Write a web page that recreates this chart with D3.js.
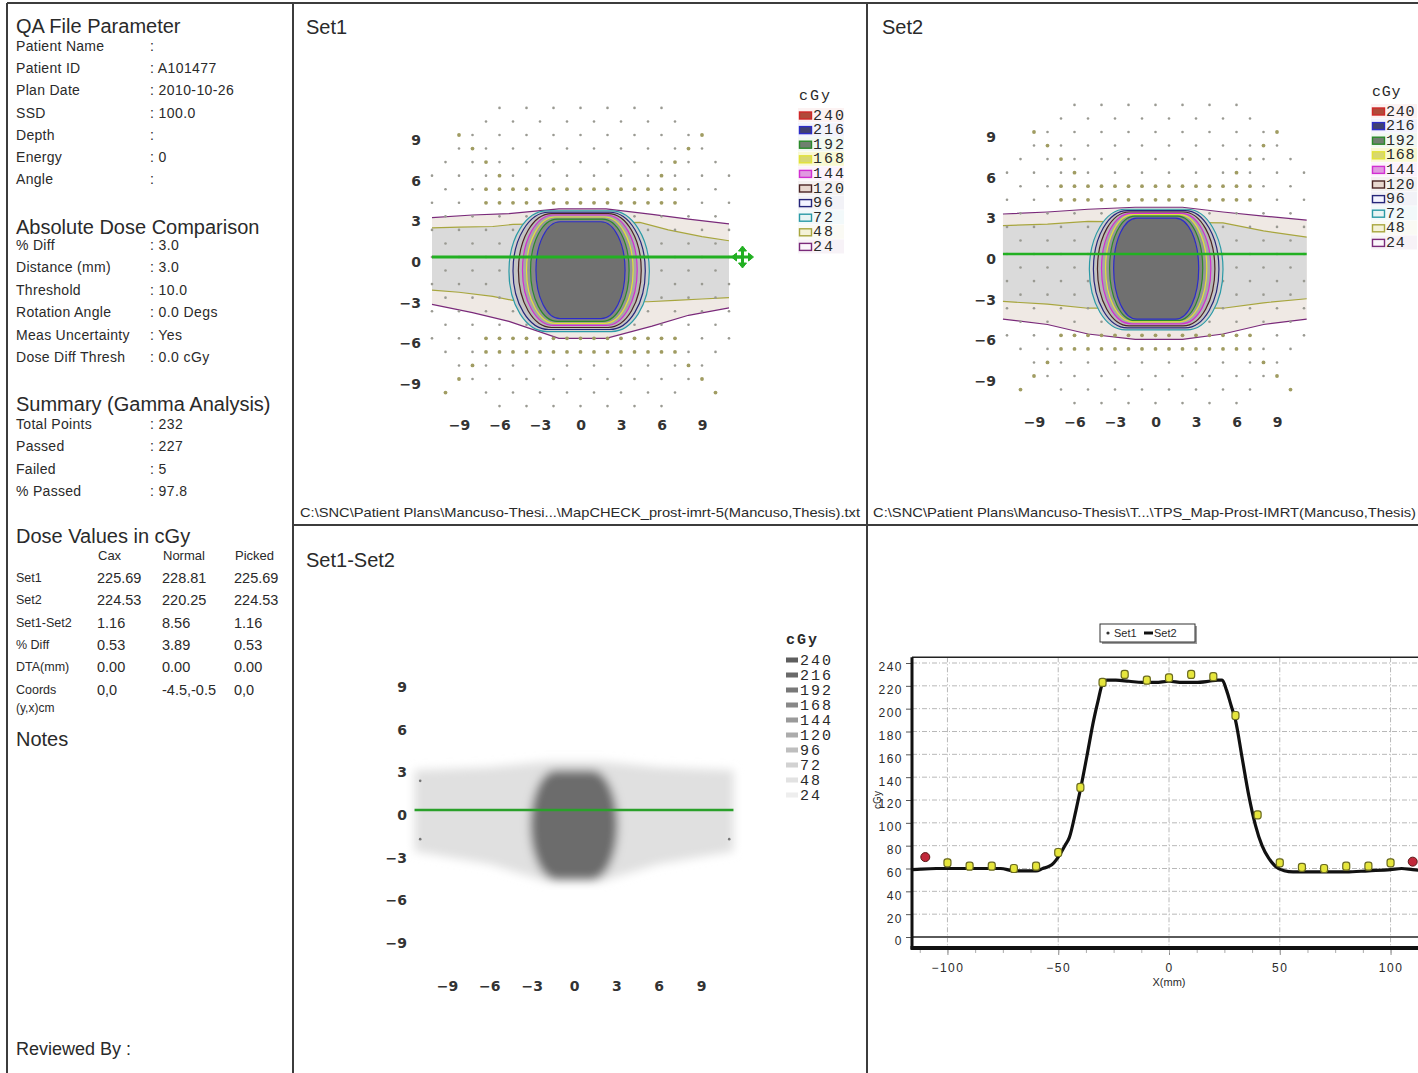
<!DOCTYPE html>
<meta charset="utf-8">
<script src="https://d3js.org/d3.v7.min.js"></script>
<style>
body { margin: 0; background: #fff; }
svg text { font-family: "Liberation Sans", Arial, sans-serif; fill: #2a2a2a; dominant-baseline: central; }
.maptick text { font-family: "DejaVu Sans", sans-serif; font-weight: bold; font-size: 14px; fill: #333; }
.legend text { font-family: "Liberation Mono", "Courier New", monospace; font-size: 15px; letter-spacing: 2px; }
.legend.tight text { letter-spacing: 0.8px; }
.pgrid line { stroke: #b8b8b8; stroke-dasharray: 5,2,1,2; }
</style>
<body>
<script>
// ---------------- data ----------------
var qaLabels = ["Patient Name", "Patient ID", "Plan Date", "SSD", "Depth", "Energy", "Angle"];
var qaValues = ["", "A101477", "2010-10-26", "100.0", "", "0", ""];
var absLabels = ["% Diff", "Distance (mm)", "Threshold", "Rotation Angle", "Meas Uncertainty", "Dose Diff Thresh"];
var absValues = ["3.0", "3.0", "10.0", "0.0 Degs", "Yes", "0.0 cGy"];
var sumLabels = ["Total Points", "Passed", "Failed", "% Passed"];
var sumValues = ["232", "227", "5", "97.8"];
var doseCols = ["Cax", "Normal", "Picked"];
var doseRows = ["Set1", "Set2", "Set1-Set2", "% Diff", "DTA(mm)", "Coords"];
var doseTable = [
  ["225.69", "228.81", "225.69"],
  ["224.53", "220.25", "224.53"],
  ["1.16", "8.56", "1.16"],
  ["0.53", "3.89", "0.53"],
  ["0.00", "0.00", "0.00"],
  ["0,0", "-4.5,-0.5", "0,0"]
];
var path1 = "C:\\SNC\\Patient Plans\\Mancuso-Thesi...\\MapCHECK_prost-imrt-5(Mancuso,Thesis).txt";
var path2 = "C:\\SNC\\Patient Plans\\Mancuso-Thesis\\T...\\TPS_Map-Prost-IMRT(Mancuso,Thesis)";

var isoLevels = [240, 216, 192, 168, 144, 120, 96, 72, 48, 24];
var mapTicks = [-9, -6, -3, 0, 3, 6, 9];

// core isodose outlines, cm: [level, left, right, bottom, top]
var set1Core = [
  [72, -5.3, 5.1, -5.5, 3.4], [96, -5.0, 4.8, -5.35, 3.3], [120, -4.6, 4.5, -5.2, 3.2],
  [144, -4.3, 4.2, -5.05, 3.1], [168, -4.0, 3.9, -4.9, 2.95], [192, -3.7, 3.6, -4.75, 2.8],
  [216, -3.3, 3.3, -4.55, 2.6]
];
var set2Core = [
  [72, -4.9, 5.0, -5.6, 3.3], [96, -4.6, 4.7, -5.45, 3.2], [120, -4.3, 4.4, -5.3, 3.1],
  [144, -4.0, 4.1, -5.15, 3.0], [168, -3.7, 3.8, -5.0, 2.9], [192, -3.4, 3.5, -4.9, 2.8],
  [216, -3.1, 3.2, -4.8, 2.65]
];
// low dose band edges, cm: [x, y]
var set1Band24Top = [[-11, 2.9], [-8, 3.1], [-5.3, 3.2], [-1.6, 3.55], [1.9, 3.55], [5.3, 3.15], [8, 2.8], [11, 2.45]];
var set1Band24Bot = [[-11, -3.5], [-8, -4.1], [-5.3, -4.75], [-1.6, -6.0], [1.9, -6.0], [5.3, -5.1], [8, -4.3], [11, -3.75]];
var set1Band48Top = [[-11, 2.15], [-9, 2.2], [-6.5, 2.25], [-5, 2.4], [4.4, 2.55], [6.5, 2.0], [9, 1.5], [11, 1.2]];
var set1Band48Bot = [[-11, -2.45], [-9, -2.6], [-6.5, -2.9], [-5, -3.2], [5, -3.3], [7, -3.2], [9, -3.1], [11, -3.0]];
var set2Band24Top = [[-11.3, 2.95], [-8, 3.1], [-5, 3.3], [-1.5, 3.45], [2, 3.45], [5, 3.1], [8, 2.8], [11.2, 2.5]];
var set2Band24Bot = [[-11.3, -4.8], [-8, -5.2], [-5, -5.9], [-1.5, -6.3], [2, -6.3], [5, -5.9], [8, -5.2], [11.2, -4.8]];
var set2Band48Top = [[-11.3, 2.1], [-8, 2.2], [-5, 2.4], [5, 2.3], [8, 1.7], [11.2, 1.25]];
var set2Band48Bot = [[-11.3, -3.5], [-8, -3.7], [-5, -4.0], [5, -4.0], [8, -3.6], [11.2, -3.3]];
var diffBandTop = [[-11.3, 2.8], [-6, 3.0], [-2, 3.4], [2, 3.4], [6, 3.0], [11.3, 2.8]];
var diffBandBot = [[-11.3, -2.9], [-6, -3.8], [-2, -5.0], [2, -5.0], [6, -3.8], [11.3, -2.9]];
var diffCore = [-3.1, 3.1, -4.9, 2.8];
var diffDots = [[-10.9, 2.05], [-10.9, -2.05], [11, -2.05]];

// detector grid (cm)
var detY = [11, 10, 9, 8, 7, 6, 5, 4, 3, 2, 1, 0, -1, -2, -3, -4, -5, -6, -7, -8, -9, -10, -11];
var detX = [-11, -10, -9, -8, -7, -6, -5, -4, -3, -2, -1, 0, 1, 2, 3, 4, 5, 6, 7, 8, 9, 10, 11];
var denseY = [5, 4, -6, -7];
var armY = [9, 8, 7, 6, -8, -9, -10];

// profile along y = 0
var profTicksY = [0, 20, 40, 60, 80, 100, 120, 140, 160, 180, 200, 220, 240];
var profTicksX = [-100, -50, 0, 50, 100];
var profMinorX = [-112.5, -100, -87.5, -75, -62.5, -50, -37.5, -25, -12.5, 0, 12.5, 25, 37.5, 50, 62.5, 75, 87.5, 100, 112.5];
var set2ProfX = [-116, -112, -105, -95, -85, -76, -70, -65, -60, -57, -54, -52, -50, -47, -45, -42, -40, -37, -34, -32, -30, -28, -24, -18, -12, -6, 0, 6, 12, 18, 22, 24, 26, 28, 30, 33, 36, 39, 42, 45, 48, 52, 56, 62, 70, 80, 90, 100, 105, 110, 116];
var set2ProfY = [59, 59.5, 60, 60, 60, 60, 58, 58, 58, 60, 62, 65, 70, 80, 87, 111, 129, 159, 190, 207, 222, 225, 225, 224, 223, 223, 224, 223, 223, 224, 225, 225, 216, 203, 190, 157, 124, 98, 80, 69, 62, 58, 57, 57, 57, 57, 58, 59, 60, 59, 58];
var set1ProfX = [-110, -100, -90, -80, -70, -60, -50, -40, -30, -20, -10, 0, 10, 20, 30, 40, 50, 60, 70, 80, 90, 100, 110];
var set1ProfY = [70, 65, 62, 62, 60, 62, 74, 131, 223, 230, 225, 227, 230, 228, 194, 107, 65, 61, 60, 62, 62, 65, 66];
var set1ProfFail = [true, false, false, false, false, false, false, false, false, false, false, false, false, false, false, false, false, false, false, false, false, false, true];

// ---------------- styles ----------------
var isoColor = {240: "#d02828", 216: "#2c2cc8", 192: "#2a8a2a", 168: "#e2e23a", 144: "#d22ed2",
  120: "#4a2424", 96: "#26267a", 72: "#2a9aa6", 48: "#a8a63e", 24: "#7a2a7a"};
var swatchFill = {240: "#b04a3a", 216: "#404070", 192: "#708070", 168: "#d8d870", 144: "#e09ae0",
  120: "#e8d8d0", 96: "#f4f4ff", 72: "#e8f4f4", 48: "#f4f2d8", 24: "#fbf6fb"};
var coreFill = {72: "#d0d0d0", 96: "#c4c4c4", 120: "#b6b6b6", 144: "#a6a6a6", 168: "#969696", 192: "#868686", 216: "#707070"};
var fill24 = "#efe9e4", fill48 = "#dadada";
var diffGray = ["#5e5e5e", "#6a6a6a", "#787878", "#888888", "#9a9a9a", "#acacac", "#bebebe", "#d2d2d2", "#e2e2e2", "#eeeeee"];
var diffText = ["#8c8c8c", "#9a9a9a", "#a6a6a6", "#b2b2b2", "#bcbcbc", "#c6c6c6", "#d0d0d0", "#dcdcdc", "#e6e6e6", "#eeeeee"];

var W = 1418, H = 1073;
var svg = d3.select("body").append("svg").attr("width", W).attr("height", H);

// ---------------- frame ----------------
var frame = svg.append("g").attr("stroke", "#3c3c3c").attr("stroke-width", 2);
frame.append("line").attr("x1", 7).attr("x2", W).attr("y1", 3).attr("y2", 3);
frame.append("line").attr("x1", 7).attr("x2", 7).attr("y1", 3).attr("y2", H);
frame.append("line").attr("x1", 293).attr("x2", 293).attr("y1", 3).attr("y2", H);
frame.append("line").attr("x1", 867).attr("x2", 867).attr("y1", 3).attr("y2", H);
frame.append("line").attr("x1", 293).attr("x2", W).attr("y1", 525).attr("y2", 525);

// ---------------- left info panel ----------------
function infoBlock(title, ty, labels, values, y0, step) {
  svg.append("text").attr("x", 16).attr("y", ty).attr("font-size", 20).text(title);
  labels.forEach(function(l, i) {
    var y = y0 + i * step;
    svg.append("text").attr("x", 16).attr("y", y).attr("font-size", 14).attr("letter-spacing", "0.3px").text(l);
    svg.append("text").attr("x", 150).attr("y", y).attr("font-size", 14).attr("letter-spacing", "0.4px").text(": " + values[i]);
  });
}
infoBlock("QA File Parameter", 26, qaLabels, qaValues, 46, 22.2);
infoBlock("Absolute Dose Comparison", 227, absLabels, absValues, 245, 22.4);
infoBlock("Summary (Gamma Analysis)", 404, sumLabels, sumValues, 424, 22.3);

svg.append("text").attr("x", 16).attr("y", 536).attr("font-size", 20).text("Dose Values in cGy");
var colX = [98, 163, 235];
doseCols.forEach(function(c, j) {
  svg.append("text").attr("x", colX[j]).attr("y", 555).attr("font-size", 13).text(c);
});
doseRows.forEach(function(r, i) {
  var y = 578 + i * 22.3;
  svg.append("text").attr("x", 16).attr("y", y).attr("font-size", 12.5).text(r);
  doseTable[i].forEach(function(v, j) {
    svg.append("text").attr("x", colX[j] - 1).attr("y", y).attr("font-size", 14.5).text(v);
  });
});
svg.append("text").attr("x", 16).attr("y", 708).attr("font-size", 12).text("(y,x)cm");
svg.append("text").attr("x", 16).attr("y", 739).attr("font-size", 20).text("Notes");
svg.append("text").attr("x", 16).attr("y", 1049).attr("font-size", 18).text("Reviewed By :");

// ---------------- panel titles & file paths ----------------
svg.append("text").attr("x", 306).attr("y", 27).attr("font-size", 20).text("Set1");
svg.append("text").attr("x", 882).attr("y", 27).attr("font-size", 20).text("Set2");
svg.append("text").attr("x", 306).attr("y", 560).attr("font-size", 20).text("Set1-Set2");
svg.append("text").attr("x", 300).attr("y", 512).attr("font-size", 13)
  .attr("textLength", 560).attr("lengthAdjust", "spacingAndGlyphs").text(path1);
svg.append("text").attr("x", 873).attr("y", 512).attr("font-size", 13)
  .attr("textLength", 543).attr("lengthAdjust", "spacingAndGlyphs").text(path2);

// ---------------- isodose maps ----------------
function mapAxes(g, xs, ys, xLabelY, yLabelX) {
  g.append("g").attr("class", "maptick").attr("transform", "translate(0," + (xLabelY - 6) + ")")
    .call(d3.axisBottom(xs).tickValues(mapTicks).tickSize(0).tickPadding(0).tickFormat(d3.format("d")))
    .call(function(a) { a.select(".domain").remove(); });
  g.append("g").attr("class", "maptick").attr("transform", "translate(" + yLabelX + ",0)")
    .call(d3.axisLeft(ys).tickValues(mapTicks).tickSize(0).tickPadding(0).tickFormat(d3.format("d")))
    .call(function(a) { a.select(".domain").remove(); });
}

function isoLegend(g, x, y, tight) {
  var lg = g.append("g").attr("class", tight ? "legend tight" : "legend");
  lg.append("text").attr("x", x).attr("y", y).attr("fill", "#333").text("cGy");
  isoLevels.forEach(function(l, i) {
    var ry = y + 19 + i * 14.6;
    lg.append("rect").attr("x", x - 1).attr("y", ry - 7).attr("width", 46).attr("height", 14)
      .attr("fill", isoColor[l]).attr("opacity", l === 168 ? 0.22 : 0.06);
    lg.append("rect").attr("x", x + 0.5).attr("y", ry - 3).attr("width", 12).attr("height", 7)
      .attr("fill", swatchFill[l]).attr("stroke", isoColor[l]).attr("stroke-width", 1.4);
    lg.append("text").attr("x", x + 14).attr("y", ry + 1).attr("fill", isoColor[l]).text(l);
  });
}

function drawIsoMap(g, xs, ys, core, b24t, b24b, b48t, b48b) {
  var line = d3.line().x(function(d) { return xs(d[0]); }).y(function(d) { return ys(d[1]); });
  function poly(t, b) { return line(t.concat(b.slice().reverse())) + "Z"; }
  g.append("path").attr("d", poly(b24t, b24b)).attr("fill", fill24);
  g.append("path").attr("d", poly(b48t, b48b)).attr("fill", fill48);
  [[b24t, 24], [b24b, 24], [b48t, 48], [b48b, 48]].forEach(function(e) {
    g.append("path").attr("d", line(e[0])).attr("fill", "none")
      .attr("stroke", isoColor[e[1]]).attr("stroke-width", 1.2);
  });
  // detectors
  var dots = [];
  detY.forEach(function(y) {
    detX.forEach(function(x) {
      var ax = Math.abs(x), ay = Math.abs(y);
      var onGrid = (Math.abs(x + y) % 2 === 1) && (ax + ay <= 17);
      var dense = denseY.indexOf(y) >= 0 && ax <= 7;
      var arm = armY.indexOf(y) >= 0 && ax === ay;
      if (onGrid || dense || arm) dots.push({x: x, y: y, big: dense || arm});
    });
  });
  g.selectAll(null).data(dots).enter().append("circle")
    .attr("cx", function(d) { return xs(d.x); })
    .attr("cy", function(d) { return ys(d.y); })
    .attr("r", function(d) { return d.big ? 1.9 : 1.3; })
    .attr("fill", function(d) { return d.big ? "#a09c62" : "#9a9a92"; });
  // core isodose rings
  core.forEach(function(d) {
    var w = xs(d[2]) - xs(d[1]), h = ys(d[3]) - ys(d[4]);
    g.append("rect").attr("x", xs(d[1])).attr("y", ys(d[4]))
      .attr("width", w).attr("height", h).attr("rx", w * 0.27).attr("ry", h / 2)
      .attr("fill", coreFill[d[0]]).attr("stroke", isoColor[d[0]]).attr("stroke-width", 1.2);
  });
}

// Set1
var xs1 = d3.scaleLinear().domain([-9, 9]).range([459, 702]);
var ys1 = d3.scaleLinear().domain([-9, 9]).range([379, 135]);
var g1 = svg.append("g");
drawIsoMap(g1, xs1, ys1, set1Core, set1Band24Top, set1Band24Bot, set1Band48Top, set1Band48Bot);
g1.append("line").attr("x1", xs1(-11)).attr("x2", xs1(12)).attr("y1", ys1(0)).attr("y2", ys1(0))
  .attr("stroke", "#22b022").attr("stroke-width", 3);
var cx = xs1(12), cy = ys1(0);
var cross = g1.append("g").attr("transform", "translate(" + cx + "," + cy + ")").attr("fill", "#22b022").attr("stroke", "#22b022");
cross.append("path").attr("d", "M-8,0H8M0,-8V8").attr("stroke-width", 3);
cross.append("path").attr("d", "M-11,0L-6,-4L-6,4Z M11,0L6,-4L6,4Z M0,-11L-4,-6L4,-6Z M0,11L-4,6L4,6Z").attr("stroke-width", 1);
mapAxes(g1, xs1, ys1, 421, 421);
isoLegend(g1, 799, 96, false);

// Set2
var xs2 = d3.scaleLinear().domain([-9, 9]).range([1034, 1277]);
var ys2 = d3.scaleLinear().domain([-9, 9]).range([376, 132]);
var g2 = svg.append("g");
drawIsoMap(g2, xs2, ys2, set2Core, set2Band24Top, set2Band24Bot, set2Band48Top, set2Band48Bot);
g2.append("line").attr("x1", xs2(-11.3)).attr("x2", xs2(11.2)).attr("y1", ys2(0)).attr("y2", ys2(0))
  .attr("stroke", "#22b022").attr("stroke-width", 2.5);
mapAxes(g2, xs2, ys2, 418, 996);
isoLegend(g2, 1372, 92, true);

// Set1-Set2 difference map (blurred grey image)
var xs3 = d3.scaleLinear().domain([-9, 9]).range([447, 701]);
var ys3 = d3.scaleLinear().domain([-9, 9]).range([938, 682]);
var g3 = svg.append("g");
var defs = svg.append("defs");
defs.append("filter").attr("id", "blur").attr("x", "-20%").attr("y", "-40%").attr("width", "140%").attr("height", "180%")
  .append("feGaussianBlur").attr("stdDeviation", 5);
var line3 = d3.line().x(function(d) { return xs3(d[0]); }).y(function(d) { return ys3(d[1]); });
var img = g3.append("g").attr("filter", "url(#blur)");
img.append("path").attr("d", line3(diffBandTop.concat(diffBandBot.slice().reverse())) + "Z").attr("fill", "#e0e0e0");
var dw = xs3(diffCore[1]) - xs3(diffCore[0]), dh = ys3(diffCore[2]) - ys3(diffCore[3]);
img.append("rect").attr("x", xs3(diffCore[0])).attr("y", ys3(diffCore[3])).attr("width", dw).attr("height", dh)
  .attr("rx", dw * 0.3).attr("ry", dh / 2).attr("fill", "#6c6c6c");
g3.selectAll(null).data(diffDots).enter().append("circle")
  .attr("cx", function(d) { return xs3(d[0]); }).attr("cy", function(d) { return ys3(d[1]); })
  .attr("r", 1.3).attr("fill", "#777");
g3.append("line").attr("x1", xs3(-11.3)).attr("x2", xs3(11.3)).attr("y1", ys3(0)).attr("y2", ys3(0))
  .attr("stroke", "#2aa02a").attr("stroke-width", 2.5);
mapAxes(g3, xs3, ys3, 982, 407);
var lg3 = g3.append("g").attr("class", "legend");
lg3.append("text").attr("x", 786).attr("y", 640).attr("fill", "#555").attr("font-weight", "bold").text("cGy");
isoLevels.forEach(function(l, i) {
  var ry = 660 + i * 15;
  lg3.append("rect").attr("x", 786).attr("y", ry - 2.5).attr("width", 12).attr("height", 5).attr("fill", diffGray[i]);
  lg3.append("text").attr("x", 800).attr("y", ry + 1).attr("fill", diffText[i]).text(l);
});

// ---------------- profile plot ----------------
var px = d3.scaleLinear().domain([-116, 116]).range([912, 1426]);
var py = d3.scaleLinear().domain([0, 240]).range([937, 663]);
var gp = svg.append("g");
var plotTop = py(245), plotBot = py(-9.6);
gp.append("g").attr("class", "pgrid").selectAll("line").data(profTicksY.slice(1)).enter().append("line")
  .attr("x1", px(-116)).attr("x2", px(116)).attr("y1", function(d) { return py(d); }).attr("y2", function(d) { return py(d); });
gp.append("g").attr("class", "pgrid").selectAll("line").data(profTicksX).enter().append("line")
  .attr("y1", plotTop).attr("y2", plotBot).attr("x1", function(d) { return px(d); }).attr("x2", function(d) { return px(d); });
gp.append("line").attr("x1", px(-116)).attr("x2", px(116)).attr("y1", py(0)).attr("y2", py(0))
  .attr("stroke", "#5a5a5a").attr("stroke-width", 2);
gp.append("line").attr("x1", px(-116)).attr("x2", px(116)).attr("y1", plotTop).attr("y2", plotTop)
  .attr("stroke", "#222").attr("stroke-width", 1.5);

// axes
var yAx = gp.append("g").attr("transform", "translate(" + (px(-116) - 1) + ",0)")
  .call(d3.axisLeft(py).tickValues(profTicksY).tickSize(5).tickPadding(3));
yAx.select(".domain").remove();
yAx.selectAll("text").attr("font-size", 12).attr("letter-spacing", "1.5px").attr("fill", "#222");
yAx.selectAll("line").attr("stroke", "#555");
var xAx = gp.append("g").attr("transform", "translate(0," + (plotBot + 2) + ")")
  .call(d3.axisBottom(px).tickValues(profTicksX).tickSize(5).tickPadding(5));
xAx.select(".domain").remove();
xAx.selectAll("text").attr("font-size", 12).attr("letter-spacing", "1.5px").attr("fill", "#222");
xAx.selectAll("line").attr("stroke", "#888");
var xMin = gp.append("g").attr("transform", "translate(0," + (plotBot + 2) + ")")
  .call(d3.axisBottom(px).tickValues(profMinorX).tickSize(3).tickFormat(""));
xMin.select(".domain").remove();
xMin.selectAll("line").attr("stroke", "#aaa");
gp.append("line").attr("x1", px(-116)).attr("x2", px(-116)).attr("y1", plotTop).attr("y2", plotBot + 1)
  .attr("stroke", "#111").attr("stroke-width", 3);
gp.append("line").attr("x1", px(-116) - 1.5).attr("x2", px(116)).attr("y1", plotBot).attr("y2", plotBot)
  .attr("stroke", "#111").attr("stroke-width", 4);
gp.append("text").attr("x", px(0)).attr("y", 982).attr("text-anchor", "middle").attr("font-size", 11).attr("fill", "#333").text("X(mm)");
gp.append("text").attr("transform", "translate(877," + py(120) + ") rotate(-90)").attr("text-anchor", "middle")
  .attr("font-size", 10).attr("fill", "#333").text("cGy");

// set2 line
var set2Pts = set2ProfX.map(function(x, i) { return [x, set2ProfY[i]]; });
gp.append("path").datum(set2Pts)
  .attr("d", d3.line().x(function(d) { return px(d[0]); }).y(function(d) { return py(d[1]); }).curve(d3.curveMonotoneX))
  .attr("fill", "none").attr("stroke", "#111").attr("stroke-width", 3.2);
// set1 points
set1ProfX.forEach(function(x, i) {
  var X = px(x), Y = py(set1ProfY[i]);
  if (set1ProfFail[i]) {
    gp.append("circle").attr("cx", X).attr("cy", Y).attr("r", 4.5).attr("fill", "#c0283a").attr("stroke", "#5a1818").attr("stroke-width", 1);
  } else {
    gp.append("rect").attr("x", X - 3.5).attr("y", Y - 4).attr("width", 7).attr("height", 8).attr("rx", 2.5)
      .attr("fill", "#e6e63c").attr("stroke", "#6a6a20").attr("stroke-width", 1.2);
  }
});

// legend
gp.append("rect").attr("x", 1102).attr("y", 626).attr("width", 95).attr("height", 18).attr("fill", "#9a9a9a");
gp.append("rect").attr("x", 1100).attr("y", 624).attr("width", 95).attr("height", 18).attr("fill", "#fff").attr("stroke", "#333");
gp.append("circle").attr("cx", 1108).attr("cy", 633).attr("r", 1.6).attr("fill", "#333");
gp.append("text").attr("x", 1114).attr("y", 633).attr("font-size", 11).text("Set1");
gp.append("line").attr("x1", 1144).attr("x2", 1153).attr("y1", 633).attr("y2", 633).attr("stroke", "#111").attr("stroke-width", 3);
gp.append("text").attr("x", 1154).attr("y", 633).attr("font-size", 11).text("Set2");
</script>
</body>
